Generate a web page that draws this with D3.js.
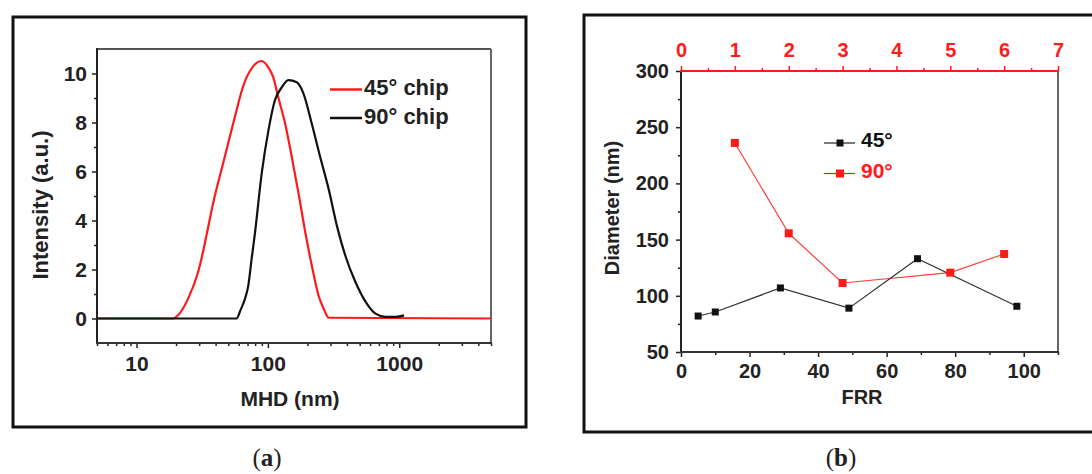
<!DOCTYPE html>
<html>
<head>
<meta charset="utf-8">
<script src="https://cdn.jsdelivr.net/npm/d3@7"></script>
<style>
    body { margin: 0; background: #fff; }
    svg text { font-family: 'Liberation Sans', Arial, sans-serif; font-weight: bold; fill: #222; }
    .fa text { font-size: 21px; }
    .fb text { font-size: 20px; }
    .caption { font-family: 'Liberation Serif', 'Times New Roman', serif !important; font-weight: normal !important; font-size: 25px; }
</style>
</head>
<body>
<svg id="chart" width="1092" height="474"></svg>
<script>
// (a) intensity vs hydrodynamic diameter, log x
let mhd45 = [5, 18.9, 20.7, 24.7, 29.4, 39.4, 47, 56, 65, 77.5, 89.8, 101, 110, 120, 135.4, 152, 171, 193, 216, 243, 266, 291, 5000];
let int45 = [0, 0, 0.13, 0.81, 1.89, 4.99, 6.6, 8.22, 9.5, 10.3, 10.51, 10.24, 9.84, 9.03, 7.95, 6.6, 5.12, 3.5, 2.16, 0.94, 0.4, 0.03, 0];
let mhd90 = [5, 57.7, 62, 67, 71, 75.2, 79.8, 89.8, 101, 113, 127.6, 143, 166, 187, 216, 250, 291, 336, 389, 465, 557, 660, 787, 940, 1090];
let int90 = [0, 0, 0.35, 0.81, 1.35, 2.43, 3.5, 5.93, 7.68, 8.9, 9.43, 9.73, 9.64, 9.17, 7.95, 6.6, 5.26, 3.77, 2.56, 1.48, 0.67, 0.2, 0.07, 0.07, 0.13];
let mhdDomain = [5, 5000];
let mhdTicks = [10, 100, 1000];
let intDomain = [-1, 11];
let intTicks = [0, 2, 4, 6, 8, 10];
let intMinor = [1, 3, 5, 7, 9];
let legendA = ['45° chip', '90° chip'];

// (b) diameter vs FRR, top axis for the 90° series
let frr45 = [5, 10, 29, 49, 69, 98];
let dia45 = [82, 85.6, 107, 89, 133, 90.7];
let ratio90 = [1, 2, 3, 5, 6];
let dia90 = [236, 155.6, 111.4, 120.6, 137.2];
let frrDomain = [0, 110];
let frrTicks = [0, 20, 40, 60, 80, 100];
let frrMinor = [10, 30, 50, 70, 90, 110];
let ratioDomain = [0, 7];
let ratioTicks = [0, 1, 2, 3, 4, 5, 6, 7];
let ratioMinor = [0.5, 1.5, 2.5, 3.5, 4.5, 5.5, 6.5];
let diaDomain = [50, 300];
let diaTicks = [50, 100, 150, 200, 250, 300];
let diaMinor = [75, 125, 175, 225, 275];
let legendB = ['45°', '90°'];

let RED = '#ff1a1a';
let svg = d3.select('#chart');

function frame(x0, y0, x1, y1) {
    svg.append('rect')
        .attr('x', x0).attr('y', y0)
        .attr('width', x1 - x0).attr('height', y1 - y0)
        .attr('fill', 'none')
        .attr('stroke', '#111')
        .attr('stroke-width', 3);
}

function edge(g, x1, y1, x2, y2, color, w) {
    g.append('line')
        .attr('x1', x1).attr('y1', y1).attr('x2', x2).attr('y2', y2)
        .attr('stroke', color).attr('stroke-width', w);
}

function axis(g, gen, transform, color) {
    let a = g.append('g')
        .attr('transform', transform)
        .attr('font-size', null)
        .attr('font-family', null)
        .call(gen);
    a.select('.domain').remove();
    a.selectAll('line').attr('stroke', color).attr('stroke-width', 1.5);
    a.selectAll('text').style('fill', color);
    return a;
}

function caption(x, letter) {
    let cap = svg.append('text').attr('class', 'caption')
        .attr('x', x).attr('y', 466).attr('text-anchor', 'middle');
    cap.append('tspan').text('(');
    cap.append('tspan').style('font-weight', 'bold').text(letter);
    cap.append('tspan').text(')');
}

function panel_a() {
    let g = svg.append('g').attr('class', 'fa');
    let left = 97, right = 491, top = 49, bottom = 343;
    let x = d3.scaleLog().domain(mhdDomain).range([left, right]);
    let y = d3.scaleLinear().domain(intDomain).range([bottom, top]);

    frame(13, 17, 526, 427);

    let minorX = x.ticks().filter(function (v) { return mhdTicks.indexOf(v) < 0; });
    axis(g, d3.axisBottom(x).tickValues(mhdTicks).tickFormat(d3.format('d')).tickSize(5).tickPadding(8), 'translate(0,' + bottom + ')', '#222');
    axis(g, d3.axisBottom(x).tickValues(minorX).tickFormat('').tickSize(3), 'translate(0,' + bottom + ')', '#222');
    axis(g, d3.axisLeft(y).tickValues(intTicks).tickSize(5).tickPadding(5), 'translate(' + left + ',0)', '#222');
    axis(g, d3.axisLeft(y).tickValues(intMinor).tickFormat('').tickSize(3), 'translate(' + left + ',0)', '#222');

    edge(g, left, top, right, top, '#555', 2);
    edge(g, right, top, right, bottom, '#666', 2);
    edge(g, left, top - 1, left, bottom + 1, '#222', 2);
    edge(g, left - 1, bottom, right + 1, bottom, '#333', 2);

    let line = d3.line()
        .x(function (d) { return x(d[0]); })
        .y(function (d) { return y(d[1]); })
        .curve(d3.curveMonotoneX);

    g.append('path')
        .attr('d', line(d3.zip(mhd45, int45)))
        .attr('fill', 'none').attr('stroke', RED).attr('stroke-width', 2.2);
    g.append('path')
        .attr('d', line(d3.zip(mhd90, int90)))
        .attr('fill', 'none').attr('stroke', '#111').attr('stroke-width', 2.2);

    let colors = [RED, '#111'];
    for (let i = 0; i < legendA.length; i++) {
        let ly = 89.5 + i * 28.5;
        edge(g, 330, ly, 362, ly, colors[i], 2.5);
        g.append('text')
            .attr('x', 364).attr('y', ly + 5 + i * 0.5)
            .style('font-size', '22px')
            .text(legendA[i]);
    }

    g.append('text')
        .attr('x', 290).attr('y', 406)
        .attr('text-anchor', 'middle')
        .text('MHD (nm)');
    g.append('text')
        .attr('transform', 'translate(48,205) rotate(-90)')
        .attr('text-anchor', 'middle')
        .style('font-size', '22px')
        .text('Intensity (a.u.)');

    caption(267, 'a');
}

function panel_b() {
    let g = svg.append('g').attr('class', 'fb');
    let left = 681, right = 1058, top = 71, bottom = 352;
    let x = d3.scaleLinear().domain(frrDomain).range([left, right]);
    let xTop = d3.scaleLinear().domain(ratioDomain).range([left, right]);
    let y = d3.scaleLinear().domain(diaDomain).range([bottom, top]);

    frame(584, 15, 1096, 432);

    axis(g, d3.axisBottom(x).tickValues(frrTicks).tickSize(5).tickPadding(7), 'translate(0,' + bottom + ')', '#222');
    axis(g, d3.axisBottom(x).tickValues(frrMinor).tickFormat('').tickSize(3), 'translate(0,' + bottom + ')', '#222');
    axis(g, d3.axisLeft(y).tickValues(diaTicks).tickSize(5).tickPadding(7), 'translate(' + left + ',0)', '#222');
    axis(g, d3.axisLeft(y).tickValues(diaMinor).tickFormat('').tickSize(3), 'translate(' + left + ',0)', '#222');
    axis(g, d3.axisTop(xTop).tickValues(ratioTicks).tickFormat(d3.format('d')).tickSize(5).tickPadding(9), 'translate(0,' + top + ')', RED);
    axis(g, d3.axisTop(xTop).tickValues(ratioMinor).tickFormat('').tickSize(3), 'translate(0,' + top + ')', RED);

    edge(g, right, top, right, bottom, '#666', 2);
    edge(g, left, top, left, bottom + 1, '#222', 2);
    edge(g, left - 1, bottom, right + 1, bottom, '#333', 2);
    edge(g, left - 1, top, right + 1, top, RED, 2);

    let line45 = d3.line()
        .x(function (d) { return x(d[0]); })
        .y(function (d) { return y(d[1]); });
    let line90 = d3.line()
        .x(function (d) { return xTop(d[0]); })
        .y(function (d) { return y(d[1]); });

    g.append('path')
        .attr('d', line90(d3.zip(ratio90, dia90)))
        .attr('fill', 'none').attr('stroke', '#ff4040').attr('stroke-width', 1.2);
    g.append('path')
        .attr('d', line45(d3.zip(frr45, dia45)))
        .attr('fill', 'none').attr('stroke', '#333').attr('stroke-width', 1.2);

    g.selectAll('.m90')
        .data(d3.zip(ratio90, dia90))
        .enter().append('rect')
        .attr('class', 'm90')
        .attr('x', function (d) { return xTop(d[0]) - 4; })
        .attr('y', function (d) { return y(d[1]) - 4; })
        .attr('width', 8).attr('height', 8)
        .attr('fill', RED);
    g.selectAll('.m45')
        .data(d3.zip(frr45, dia45))
        .enter().append('rect')
        .attr('class', 'm45')
        .attr('x', function (d) { return x(d[0]) - 3.5; })
        .attr('y', function (d) { return y(d[1]) - 3.5; })
        .attr('width', 7).attr('height', 7)
        .attr('fill', '#111');

    // legend
    let lcol = ['#222', RED];
    let mcol = ['#111', RED];
    for (let i = 0; i < legendB.length; i++) {
        let ly = 143 + i * 30.5;
        edge(g, 824, ly, 855, ly, lcol[i], 1.2);
        g.append('rect')
            .attr('x', 840 - 3.5 - i * 0.5).attr('y', ly - 3.5 - i * 0.5)
            .attr('width', 7 + i).attr('height', 7 + i)
            .attr('fill', mcol[i]);
        g.append('text')
            .attr('x', 861).attr('y', ly + 4)
            .style('font-size', '21px')
            .style('fill', mcol[i])
            .text(legendB[i]);
    }

    g.append('text')
        .attr('x', 862).attr('y', 404)
        .attr('text-anchor', 'middle')
        .text('FRR');
    g.append('text')
        .attr('transform', 'translate(619,208) rotate(-90)')
        .attr('text-anchor', 'middle')
        .text('Diameter (nm)');

    caption(841, 'b');
}

panel_a();
panel_b();
</script>
</body>
</html>
